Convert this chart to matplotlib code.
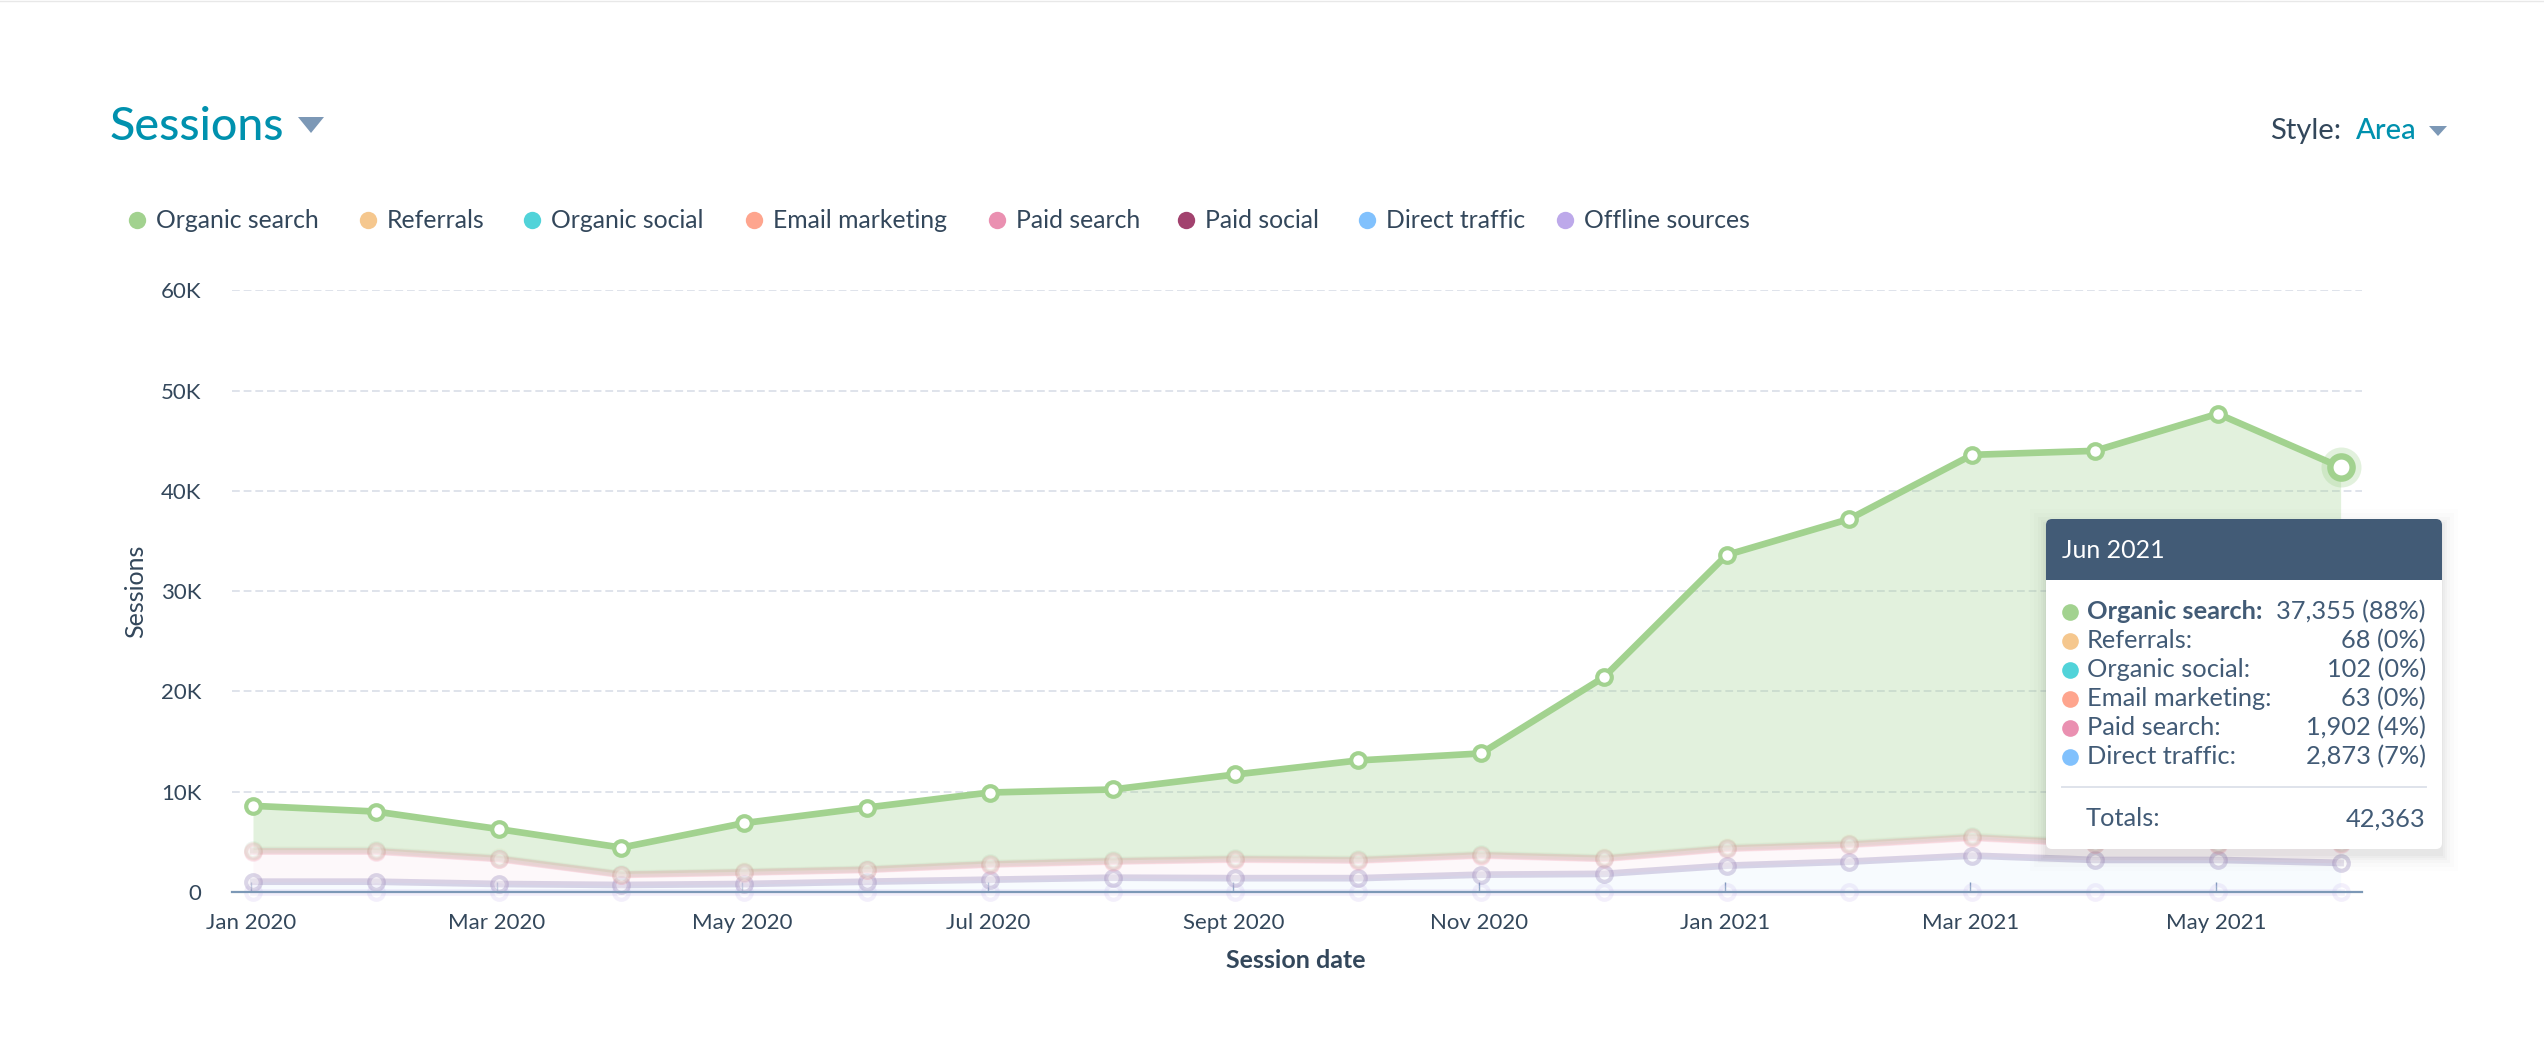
import numpy as np
import matplotlib
matplotlib.use('Agg')
import matplotlib.pyplot as plt
from matplotlib.patches import FancyBboxPatch, Rectangle, Polygon

plt.rcParams['font.family'] = ['Lato', 'DejaVu Sans']

W, H = 2544, 1038

# stacked from the bottom up
months = ['Jan 2020', 'Feb 2020', 'Mar 2020', 'Apr 2020', 'May 2020', 'Jun 2020',
          'Jul 2020', 'Aug 2020', 'Sept 2020', 'Oct 2020', 'Nov 2020', 'Dec 2020',
          'Jan 2021', 'Feb 2021', 'Mar 2021', 'Apr 2021', 'May 2021', 'Jun 2021']
offline = [0] * 18
direct = [1000, 1000, 770, 670, 770, 1000, 1200, 1400, 1350, 1350, 1700, 1780,
          2600, 3000, 3600, 3170, 3170, 2873]
paid_social = [0] * 18
paid_search = [3000, 3000, 2480, 1000, 1130, 1170, 1500, 1600, 1850, 1750, 1900, 1490,
               1670, 1670, 1770, 1580, 1530, 1902]
email = [60, 60, 50, 40, 40, 40, 50, 50, 60, 60, 60, 50, 60, 60, 70, 60, 60, 63]
social = [80, 80, 70, 60, 60, 60, 70, 70, 70, 70, 70, 70, 80, 80, 90, 80, 80, 102]
referrals = [60, 60, 50, 40, 40, 40, 50, 50, 60, 60, 60, 50, 60, 60, 70, 60, 60, 68]
organic = [4370, 3800, 2830, 2590, 4810, 6090, 7030, 7030, 8310, 9810, 10010, 17960,
           29130, 32330, 38000, 39050, 42800, 37355]

legend_names = ['Organic search', 'Referrals', 'Organic social', 'Email marketing',
                'Paid search', 'Paid social', 'Direct traffic', 'Offline sources']
legend_colors = ['#a2d28f', '#f5c78e', '#51d3d9', '#fea58e', '#ea90b1', '#a2426e', '#81c1fd', '#bda9ea']
legend_x = [137, 368, 532, 754, 997, 1186, 1367, 1565]

tooltip_names = ['Organic search:', 'Referrals:', 'Organic social:', 'Email marketing:',
                 'Paid search:', 'Direct traffic:']
tooltip_values = ['37,355 (88%)', '68 (0%)', '102 (0%)', '63 (0%)', '1,902 (4%)', '2,873 (7%)']
tooltip_colors = ['#a2d28f', '#f5c78e', '#51d3d9', '#fea58e', '#ea90b1', '#81c1fd']

TEXT = '#33475b'
TEAL = '#0091ae'
SLATE = '#425b76'
AXIS = '#7c98b6'
GRID = '#dfe3eb'


def px_axes(fig, left, top, right, bottom):
    return fig.add_axes([left / W, 1 - bottom / H, (right - left) / W, (bottom - top) / H])


fig = plt.figure(figsize=(W / 100, H / 100), dpi=100)

# main chart
ax = px_axes(fig, 232, 290.5, 2362, 891.7)
x = np.arange(len(months))
ax.set_xlim(-0.171, 17.174)
ax.set_ylim(0, 60000)

layers = [
    (offline, '#bda9ea', 0.18, '#bda9ea', 0.0),
    (direct, '#a8a2cf', 0.38, '#81c1fd', 0.06),
    (paid_social, '#a2426e', 0.04, '#a2426e', 0.0),
    (paid_search, '#ea90b1', 0.2, '#ea90b1', 0.06),
    (email, '#f08a7a', 0.15, '#fea58e', 0.08),
    (social, '#51d3d9', 0.08, '#51d3d9', 0.08),
    (referrals, '#f5c78e', 0.08, '#f5c78e', 0.08),
    (organic, '#a2d28f', 1.0, '#a2d28f', 0.3),
]
bottom = np.zeros(len(months))
for values, color, line_alpha, fill_color, fill_alpha in layers:
    top = bottom + np.array(values)
    if fill_alpha > 0:
        ax.fill_between(x, bottom, top, color=fill_color, alpha=fill_alpha, lw=0, zorder=2)
    ax.plot(x, top, color=color, alpha=line_alpha, lw=4.8, marker='o', ms=10.5, mew=3,
            mfc='white', mec=color, clip_on=False, zorder=3, solid_joinstyle='round')
    bottom = top

# hovered point
ax.plot(x[-1], bottom[-1], 'o', ms=28.8, color='#a2d28f', alpha=0.3, mew=0, clip_on=False, zorder=4)
ax.plot(x[-1], bottom[-1], 'o', ms=16, mfc='white', mec='#a2d28f', mew=4.6, clip_on=False, zorder=4)

ax.set_xticks(x[::2] - 0.016)
ax.set_xticklabels(months[::2])
ax.set_yticks(range(0, 60001, 10000))
ax.set_yticklabels(['0', '10K', '20K', '30K', '40K', '50K', '60K'])
ax.tick_params(axis='x', direction='in', length=7, width=1, color=AXIS, labelsize=16,
               labelcolor=TEXT, pad=15)
ax.tick_params(axis='y', length=0, labelsize=16, labelcolor=TEXT, pad=22)
ax.grid(axis='y', color=GRID, lw=1.4, ls=(0, (4, 2)), zorder=1)
ax.set_axisbelow(True)
for side in ['top', 'left', 'right']:
    ax.spines[side].set_visible(False)
ax.spines['bottom'].set_color(AXIS)
ax.spines['bottom'].set_linewidth(1.6)
ax.spines['bottom'].set_zorder(3.5)

# page chrome, drawn in pixel coordinates
ov = fig.add_axes([0, 0, 1, 1], zorder=10)
ov.set_xlim(0, W)
ov.set_ylim(H, 0)
ov.axis('off')
ov.patch.set_alpha(0)

ov.plot([0, W], [0.5, 0.5], color='#e8e8e8', lw=1)
ov.text(110, 127, 'Sessions', color=TEAL, fontsize=33.5, va='center', ha='left', fontweight='medium')
ov.add_patch(Polygon([(298, 117), (324, 117), (311, 133)], color=AXIS, lw=0))
ov.text(2270, 131, 'Style:', color=TEXT, fontsize=21, va='center', ha='left')
ov.text(2356, 131, 'Area', color=TEAL, fontsize=21, va='center', ha='left', fontweight='medium')
ov.add_patch(Polygon([(2429, 126), (2447, 126), (2438, 136)], color=AXIS, lw=0))

for name, color, lx in zip(legend_names, legend_colors, legend_x):
    ov.plot(lx, 220, 'o', color=color, ms=12.5, mew=0)
    ov.text(lx + 19, 220, name, color=TEXT, fontsize=17.8, va='center', ha='left')

ov.text(136, 591, 'Sessions', color=TEXT, fontsize=18, rotation=90, va='center', ha='center')
ov.text(1296, 960, 'Session date', color=TEXT, fontsize=18, fontweight='bold', va='center', ha='center')

# tooltip
for grow, a in zip([26, 20, 14, 9, 5, 2], [0.008, 0.012, 0.015, 0.018, 0.02, 0.025]):
    ov.add_patch(Rectangle((2046 - grow * 0.6, 519 + 6 - grow * 0.6), 396 + 1.2 * grow, 330 + 1.2 * grow,
                           color='black', alpha=a, lw=0))
ov.add_patch(FancyBboxPatch((2046, 519), 396, 330, boxstyle='round,pad=0,rounding_size=6',
                            fc='white', ec='none'))
ov.add_patch(FancyBboxPatch((2046, 519), 396, 30, boxstyle='round,pad=0,rounding_size=6',
                            fc=SLATE, ec='none'))
ov.add_patch(Rectangle((2046, 530), 396, 50, color=SLATE, lw=0))
ov.text(2062, 550, 'Jun 2021', color='white', fontsize=18, va='center', ha='left')

row_y = 611.5
for i, (name, value, color) in enumerate(zip(tooltip_names, tooltip_values, tooltip_colors)):
    ov.plot(2070, row_y, 'o', color=color, ms=12, mew=0)
    ov.text(2087, row_y, name, color=SLATE, fontsize=18.3, va='center', ha='left',
            fontweight='bold' if i == 0 else 'normal')
    ov.text(2426, row_y, value, color=SLATE, fontsize=18.3, va='center', ha='right')
    row_y += 29

ov.plot([2062, 2426], [787, 787], color=GRID, lw=1.4)
ov.text(2086, 819, 'Totals:', color=SLATE, fontsize=18.3, va='center', ha='left')
ov.text(2425, 819, '42,363', color=SLATE, fontsize=18.3, va='center', ha='right')

plt.savefig('out.png', dpi=100)
